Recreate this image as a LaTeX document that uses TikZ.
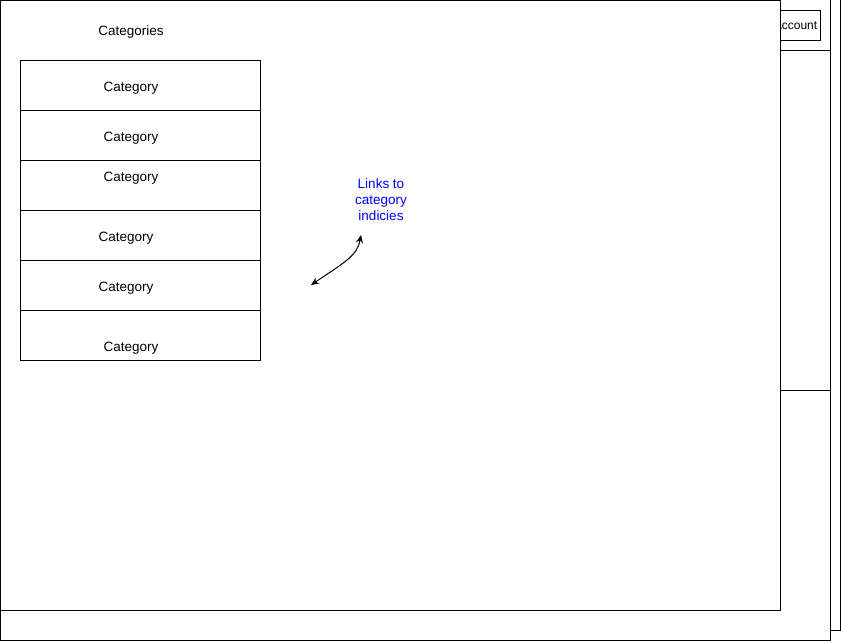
\documentclass[tikz,border=0pt]{standalone}
\usepackage{fontspec}
\setmainfont{Liberation Sans}
\usetikzlibrary{arrows.meta}
\begin{document}
\begin{tikzpicture}[x=1pt,y=-1pt,
  frame/.style={draw=black,line width=1pt},
  rowbox/.style={draw=black,line width=1pt,fill=white,minimum width=240pt,minimum height=50pt,inner sep=0pt,anchor=north west},
  lbl/.style={font=\fontsize{13.5}{16}\selectfont,inner sep=0pt,anchor=base},
  note/.style={font=\fontsize{13.5}{16}\selectfont,text=blue,align=center,inner sep=0pt},
  link/.style={line width=1pt,{Stealth[length=8pt,width=7pt]}-{Stealth[length=8pt,width=7pt]}}]
\useasboundingbox (0,0) rectangle (841,641);
% back layers
\draw[frame,fill=white] (0.5,-5) rectangle (840,630);
\draw[frame,fill=white] (0.5,-5) rectangle (830,640);
\draw[frame] (780,50) -- (830,50);
\draw[frame] (780,390) -- (830,390);
\node[frame,minimum width=50pt,minimum height=30pt,inner sep=0pt,anchor=north east,font=\fontsize{12}{14}\selectfont] (acct) at (821,10) {Account};
% front page
\draw[frame,fill=white] (0.5,0.5) rectangle (780,610);
\node[lbl] (title) at (131,35.5) {Categories};
\node[rowbox] (r1) at (20,60) {};
\node[rowbox] (r2) at (20,110) {};
\node[rowbox] (r3) at (20,160) {};
\node[rowbox] (r4) at (20,210) {};
\node[rowbox] (r5) at (20,260) {};
\node[rowbox] (r6) at (20,310) {};
\node[lbl] (t1) at (131,91.5) {Category};
\node[lbl] (t2) at (131,141.5) {Category};
\node[lbl] (t3) at (131,181.5) {Category};
\node[lbl] (t4) at (126,241.5) {Category};
\node[lbl] (t5) at (126,291.5) {Category};
\node[lbl] (t6) at (131,351.5) {Category};
\node[note] (links) at (381,199.5) {Links to\\category\\indicies};
\coordinate (a) at (311,285);
\coordinate (b) at (361,235);
\draw[link] (a) .. controls (345,262) and (357,256) .. (b);
\end{tikzpicture}
\end{document}
